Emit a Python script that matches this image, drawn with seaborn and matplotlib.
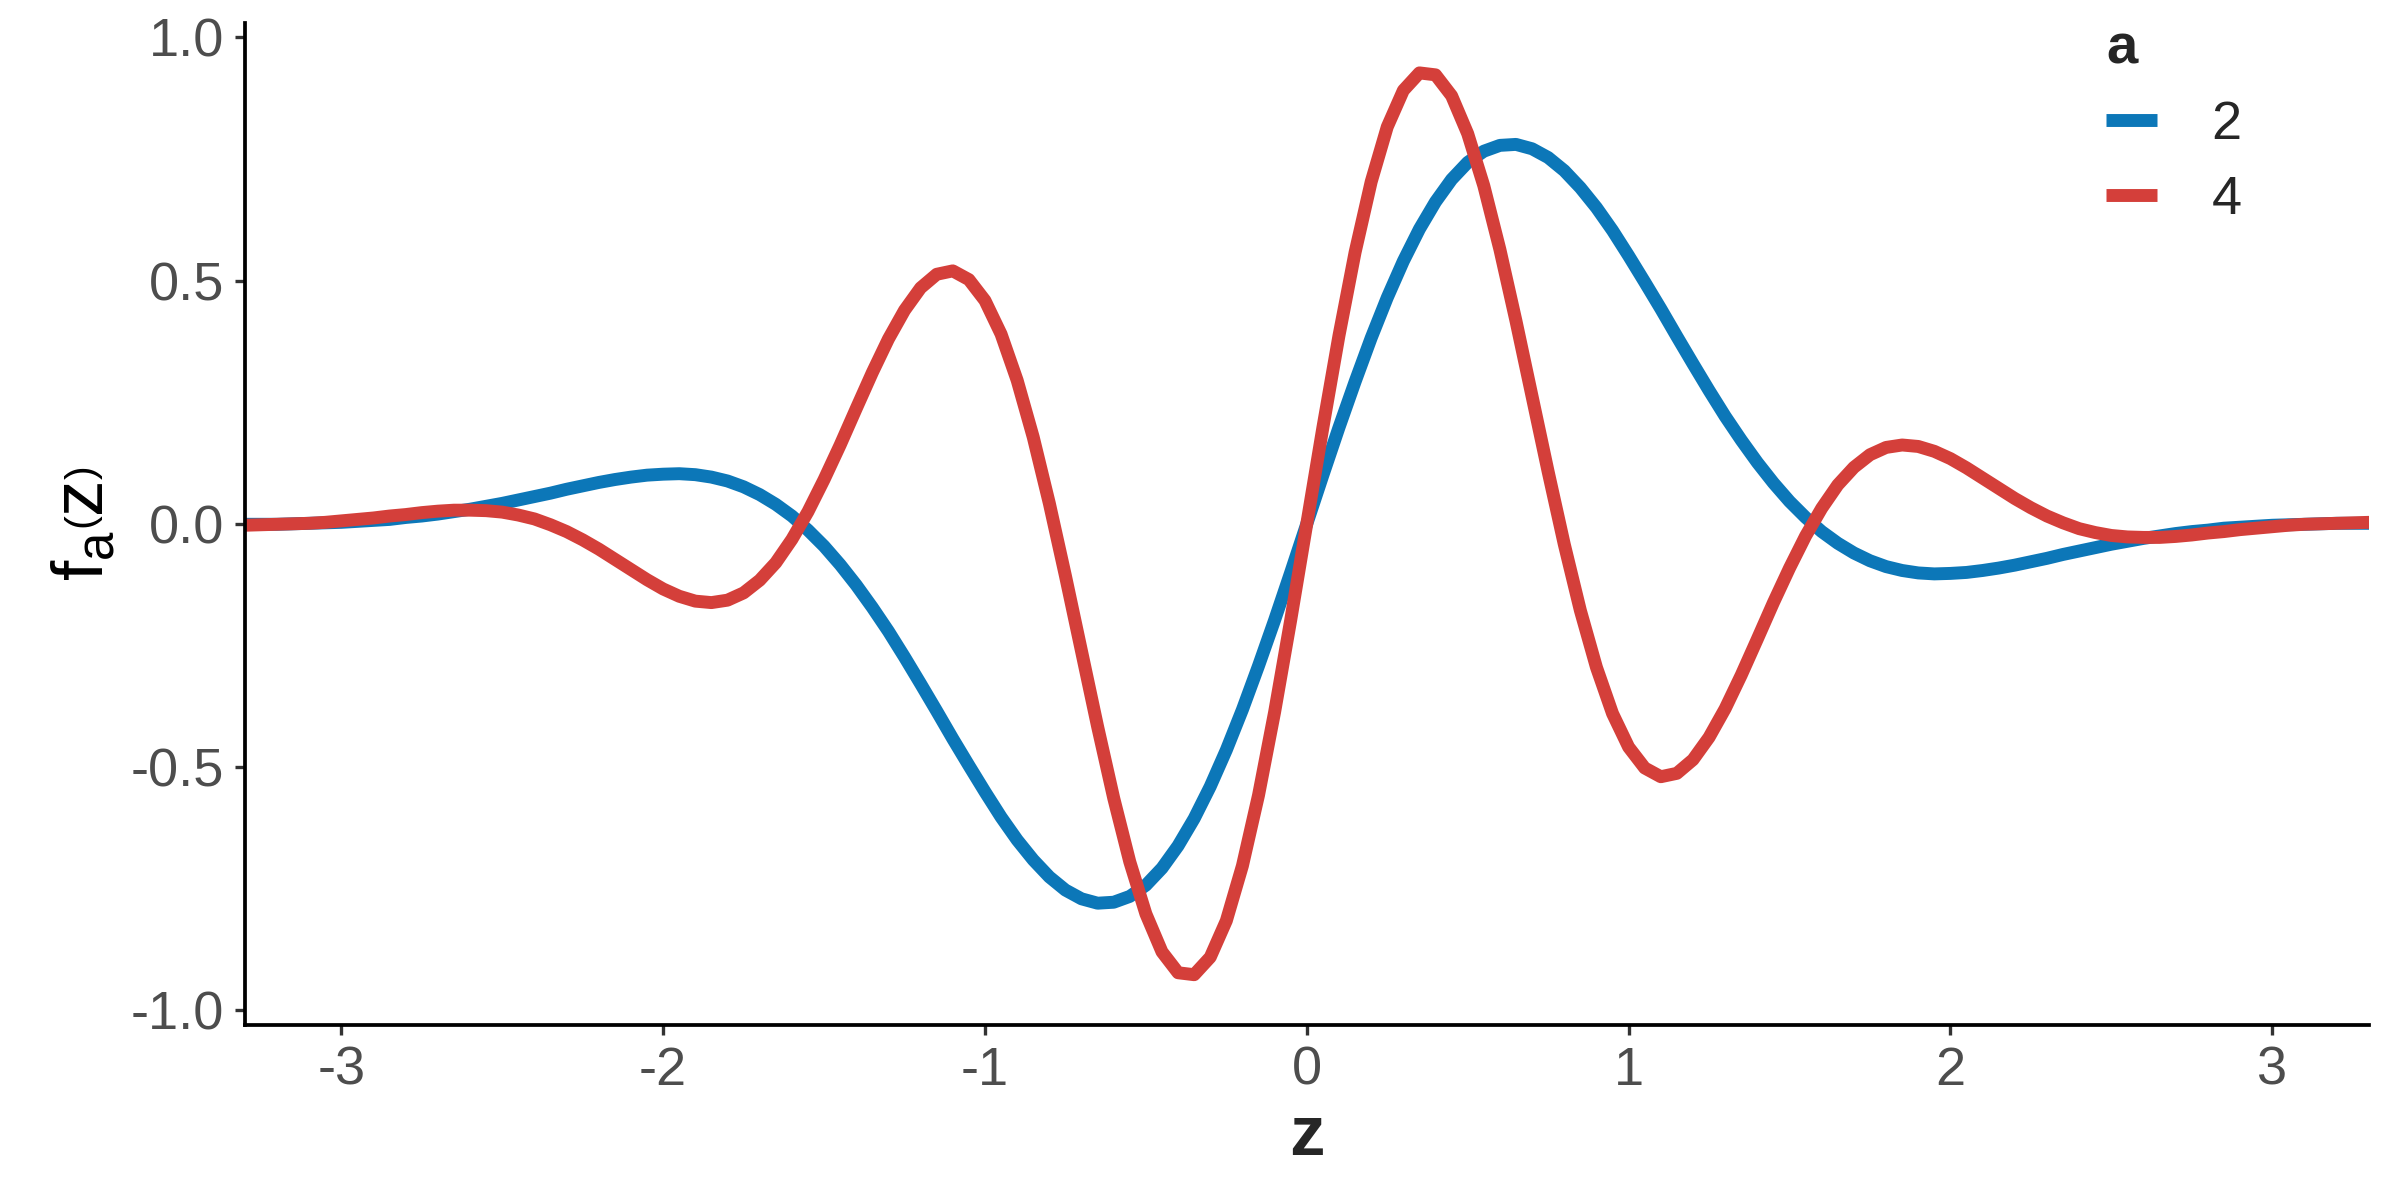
import numpy as np
import pandas as pd
import matplotlib
matplotlib.use('Agg')
import matplotlib.pyplot as plt
import seaborn as sns

# z grid, step 0.05
z = np.round(np.arange(-66, 67) * 0.05, 2)

f_a2 = [-0.001, -0.001, -0.001, 0.000, 0.001, 0.002, 0.003, 0.005, 0.007, 0.009,
        0.013, 0.016, 0.020, 0.025, 0.030, 0.036, 0.042, 0.049, 0.056, 0.063,
        0.071, 0.078, 0.085, 0.091, 0.096, 0.100, 0.102, 0.103, 0.101, 0.096,
        0.088, 0.076, 0.060, 0.040, 0.016, -0.013, -0.046, -0.084, -0.126, -0.172,
        -0.221, -0.274, -0.329, -0.385, -0.442, -0.497, -0.551, -0.603, -0.650, -0.691,
        -0.726, -0.753, -0.771, -0.780, -0.778, -0.766, -0.743, -0.708, -0.662, -0.606,
        -0.540, -0.465, -0.382, -0.292, -0.198, -0.100,
        0.000,
        0.100, 0.198, 0.292, 0.382, 0.465, 0.540, 0.606, 0.662, 0.708, 0.743,
        0.766, 0.778, 0.780, 0.771, 0.753, 0.726, 0.691, 0.650, 0.603, 0.551,
        0.497, 0.442, 0.385, 0.329, 0.274, 0.221, 0.172, 0.126, 0.084, 0.046,
        0.013, -0.016, -0.040, -0.060, -0.076, -0.088, -0.096, -0.101, -0.103, -0.102,
        -0.100, -0.096, -0.091, -0.085, -0.078, -0.071, -0.063, -0.056, -0.049, -0.042,
        -0.036, -0.030, -0.025, -0.020, -0.016, -0.013, -0.009, -0.007, -0.005, -0.003,
        -0.002, -0.001, 0.000, 0.001, 0.001, 0.001]

f_a4 = [-0.003, -0.002, -0.001, 0.000, 0.001, 0.003,
        0.006, 0.009, 0.012, 0.016, 0.019, 0.023, 0.026, 0.028, 0.028, 0.027,
        0.024, 0.018, 0.010, -0.002, -0.016, -0.033, -0.052, -0.073, -0.094, -0.115,
        -0.134, -0.149, -0.159, -0.162, -0.157, -0.142, -0.116, -0.080, -0.032, 0.025,
        0.091, 0.162, 0.237, 0.311, 0.380, 0.439, 0.485, 0.513, 0.520, 0.502,
        0.459, 0.390, 0.295, 0.178, 0.042, -0.107, -0.262, -0.417, -0.564, -0.695,
        -0.802, -0.880, -0.923, -0.927, -0.891, -0.816, -0.703, -0.558, -0.387, -0.198,
        0.000,
        0.198, 0.387, 0.558, 0.703, 0.816, 0.891, 0.927, 0.923, 0.880, 0.802,
        0.695, 0.564, 0.417, 0.262, 0.107, -0.042, -0.178, -0.295, -0.390, -0.459,
        -0.502, -0.520, -0.513, -0.485, -0.439, -0.380, -0.311, -0.237, -0.162, -0.091,
        -0.025, 0.032, 0.080, 0.116, 0.142, 0.157, 0.162, 0.159, 0.149, 0.134,
        0.115, 0.094, 0.073, 0.052, 0.033, 0.016, 0.002, -0.010, -0.018, -0.024,
        -0.027, -0.028, -0.028, -0.026, -0.023, -0.019, -0.016, -0.012, -0.009, -0.006,
        -0.003, -0.001, 0.000, 0.001, 0.002, 0.003]

a_levels = ['2', '4']
colors = {'2': '#0C77B8', '4': '#D43F3A'}

df = pd.DataFrame({
    'z': np.concatenate([z, z]),
    'f': f_a2 + f_a4,
    'a': ['2'] * len(z) + ['4'] * len(z),
})

sns.set_style('white')
plt.rcParams['font.family'] = ['Liberation Sans', 'DejaVu Sans']
plt.rcParams['mathtext.fontset'] = 'custom'
plt.rcParams['mathtext.rm'] = 'Liberation Sans'
plt.rcParams['mathtext.bf'] = 'Liberation Sans:bold'
plt.rcParams['mathtext.it'] = 'Liberation Sans:italic'

fig = plt.figure(figsize=(16, 8), dpi=150)
ax = fig.add_axes([0.102, 0.146, 0.885, 0.835])

sns.lineplot(data=df, x='z', y='f', hue='a', hue_order=a_levels, palette=colors,
             linewidth=6.2, ax=ax, legend=True)

ax.set_xlim(-3.3, 3.3)
ax.set_ylim(-1.03, 1.03)
ax.set_xticks([-3, -2, -1, 0, 1, 2, 3])
ax.set_xticklabels(['-3', '-2', '-1', '0', '1', '2', '3'])
ax.set_yticks([-1.0, -0.5, 0.0, 0.5, 1.0])
ax.set_yticklabels(['-1.0', '-0.5', '0.0', '0.5', '1.0'])

for s in ['top', 'right']:
    ax.spines[s].set_visible(False)
for s in ['left', 'bottom']:
    ax.spines[s].set_color('black')
    ax.spines[s].set_linewidth(1.8)

ax.tick_params(axis='both', length=5, width=1.6, color='#333333',
               labelsize=26, labelcolor='#4D4D4D', pad=5, left=True, bottom=True)

ax.set_xlabel('z', fontsize=34, fontweight='bold', labelpad=4)
ax.set_ylabel(r'$\mathregular{f}_{\mathregular{a}}\left(\mathregular{z}\right)$',
              fontsize=35, labelpad=6, color='black')

handles, labels = ax.get_legend_handles_labels()
leg = ax.legend(handles, labels, title='a', loc='upper left',
                bbox_to_anchor=(0.8775, 0.98), bbox_transform=fig.transFigure,
                frameon=False, fontsize=26, handlelength=0.95, handletextpad=1.0,
                labelspacing=0.45, borderpad=0.0, borderaxespad=0.0)
leg.get_title().set_fontweight('bold')
leg.get_title().set_fontsize(27)
leg._legend_box.align = 'left'
for line in leg.get_lines():
    line.set_linewidth(6.2)
    line.set_solid_capstyle('butt')

plt.savefig('out.png', dpi=150)
